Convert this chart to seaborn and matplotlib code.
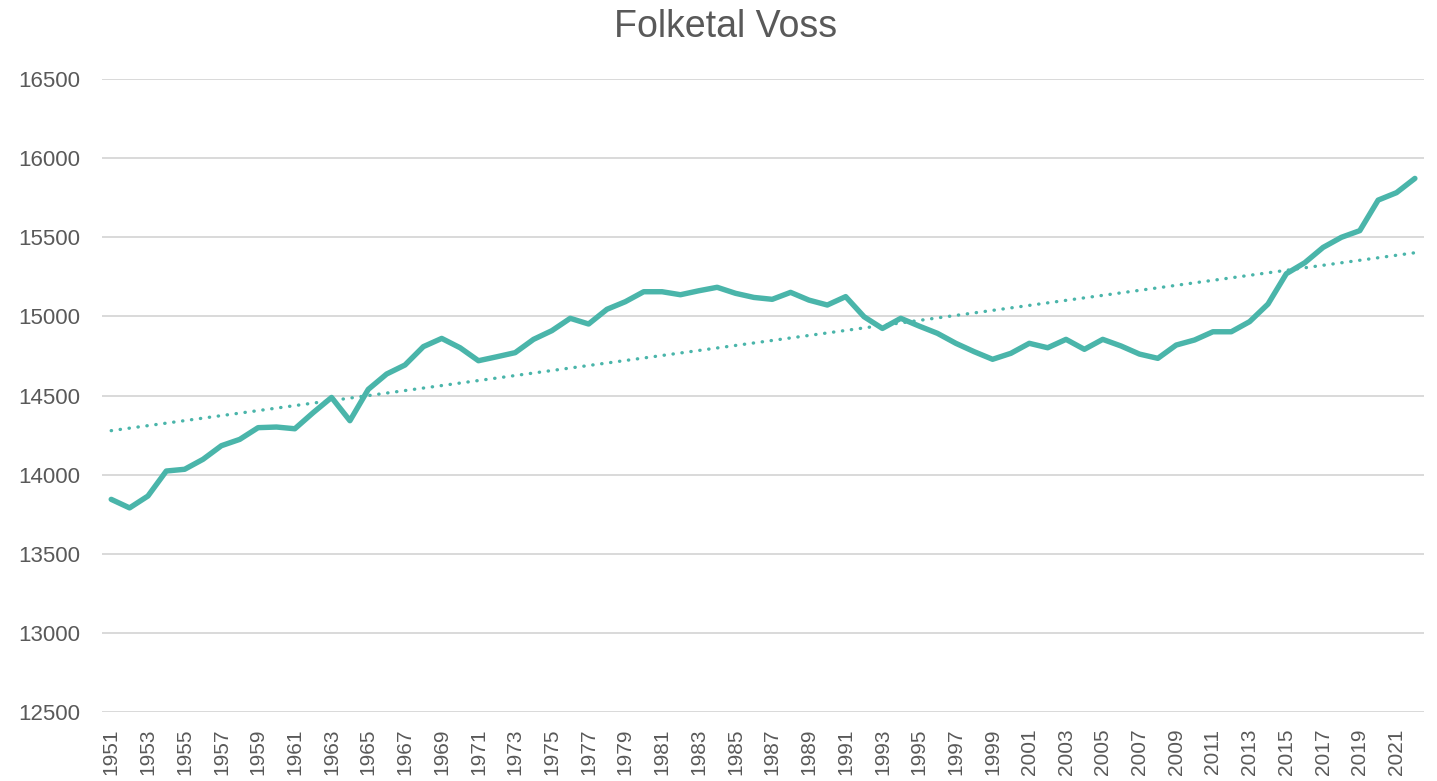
import numpy as np
import pandas as pd
import matplotlib
matplotlib.use("Agg")
import matplotlib.pyplot as plt
import seaborn as sns

# =========================
# DATA
# =========================
years = list(range(1951, 2023))
folketal = [
    13844, 13790, 13865, 14023, 14034, 14097, 14183, 14223, 14297, 14301,
    14290, 14392, 14488, 14341, 14539, 14636, 14693, 14809, 14861, 14802,
    14720, 14745, 14771, 14855, 14910, 14988, 14952, 15045, 15093, 15156,
    15156, 15137, 15162, 15184, 15146, 15120, 15108, 15152, 15103, 15072,
    15125, 14998, 14924, 14988, 14939, 14893, 14830, 14777, 14729, 14767,
    14830, 14802, 14855, 14792, 14855, 14813, 14762, 14735, 14819, 14851,
    14903, 14903, 14967, 15078, 15270, 15339, 15436, 15500, 15542, 15735,
    15782, 15872,
]
tick_years = list(range(1951, 2023, 2))
y_ticks = list(range(12500, 17000, 500))

df = pd.DataFrame({"year": years, "folketal": folketal})

# =========================
# STYLE
# =========================
sns.set_style("white")
plt.rcParams["font.family"] = ["Liberation Sans", "DejaVu Sans"]
teal = "#4AB5AA"
grey_text = "#595959"

fig = plt.figure(figsize=(14.37, 7.81), dpi=100)
ax = fig.add_axes([0.071, 0.0883, 0.92, 0.8105])

sns.lineplot(data=df, x="year", y="folketal", color=teal, linewidth=3.9,
             ax=ax, solid_capstyle="round", solid_joinstyle="round")
# linear trendline (fit done by seaborn)
sns.regplot(data=df, x="year", y="folketal", scatter=False, ci=None,
            color=teal, ax=ax,
            line_kws={"linestyle": (0, (0.1, 2.6)), "linewidth": 2.4,
                      "dash_capstyle": "round"})

ax.set_xlim(1950.5, 2022.5)
ax.set_ylim(12500, 16500)
ax.set_yticks(y_ticks)
ax.set_xticks(tick_years)
ax.set_xticklabels([str(y) for y in tick_years], rotation=90)
ax.yaxis.grid(True, color="#D9D9D9", linewidth=1.4)
ax.set_axisbelow(True)
ax.tick_params(axis="y", length=0, pad=16, labelsize=16, labelcolor=grey_text)
ax.tick_params(axis="x", length=0, pad=12, labelsize=15, labelcolor=grey_text)
for s in ax.spines.values():
    s.set_visible(False)
ax.set_xlabel("")
ax.set_ylabel("")
fig.suptitle("Folketal Voss", x=0.505, y=0.988, fontsize=27, color=grey_text)

fig.savefig("out.png", dpi=100)
